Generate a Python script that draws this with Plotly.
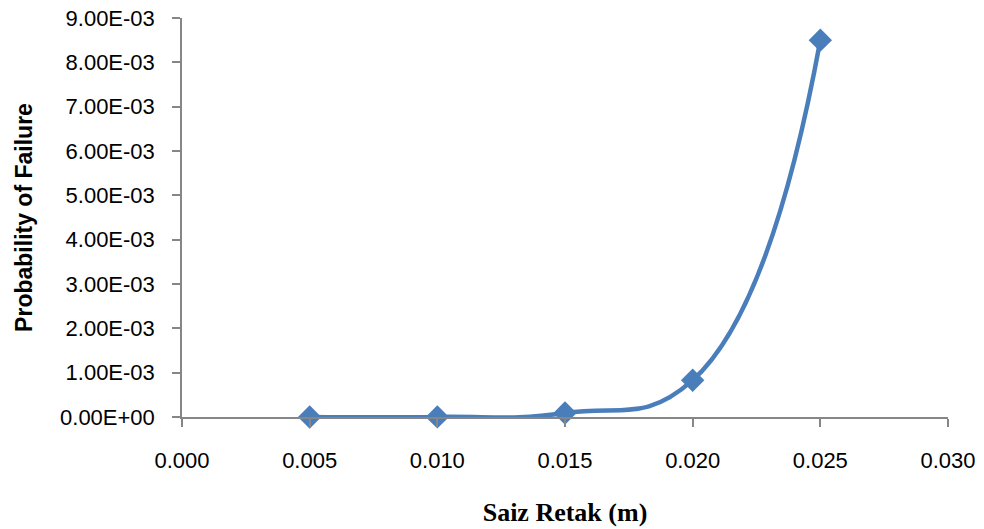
import plotly.graph_objects as go

crack_size = [0.005, 0.010, 0.015, 0.020, 0.025]
prob_failure = [1.0e-6, 2.0e-6, 9.0e-5, 8.3e-4, 8.5e-3]

y_tickvals = [0, 0.001, 0.002, 0.003, 0.004, 0.005, 0.006, 0.007, 0.008, 0.009]
y_ticktext = ["0.00E+00", "1.00E-03", "2.00E-03", "3.00E-03", "4.00E-03",
              "5.00E-03", "6.00E-03", "7.00E-03", "8.00E-03", "9.00E-03"]
x_tickvals = [0.000, 0.005, 0.010, 0.015, 0.020, 0.025, 0.030]
x_ticktext = ["0.000", "0.005", "0.010", "0.015", "0.020", "0.025", "0.030"]

line_color = "#4A7EBB"
axis_color = "#868686"

fig = go.Figure()
fig.add_trace(go.Scatter(
    x=crack_size, y=prob_failure, mode="lines+markers",
    line=dict(color=line_color, width=4.5, shape="spline", smoothing=1.3),
    marker=dict(symbol="diamond", size=18, color=line_color),
    cliponaxis=False, showlegend=False,
))

fig.update_layout(
    width=984, height=529,
    margin=dict(l=182, r=36, t=18, b=112),
    paper_bgcolor="white", plot_bgcolor="white",
    font=dict(family="Liberation Sans, Arial, sans-serif", color="black"),
    xaxis=dict(
        range=[0, 0.030], tickvals=x_tickvals, ticktext=x_ticktext, automargin=False,
        showgrid=False, zeroline=False, showline=True, linecolor=axis_color, linewidth=1.5,
        ticks="outside", ticklen=8, tickcolor=axis_color, tickwidth=1.5,
        tickfont=dict(size=22), ticklabelstandoff=15,
        title=dict(text="<b>Saiz Retak (m)</b>", font=dict(family="Liberation Serif, Times New Roman, serif", size=26), standoff=31),
    ),
    yaxis=dict(
        range=[0, 0.009], tickvals=y_tickvals, ticktext=y_ticktext, automargin=False,
        showgrid=False, zeroline=False, showline=True, linecolor=axis_color, linewidth=1.5,
        ticks="outside", ticklen=8, tickcolor=axis_color, tickwidth=1.5,
        tickfont=dict(size=22), ticklabelstandoff=13,
        title=dict(text="<b>Probability of Failure</b>", font=dict(size=23), standoff=21),
    ),
)

fig.write_html("out.html")
